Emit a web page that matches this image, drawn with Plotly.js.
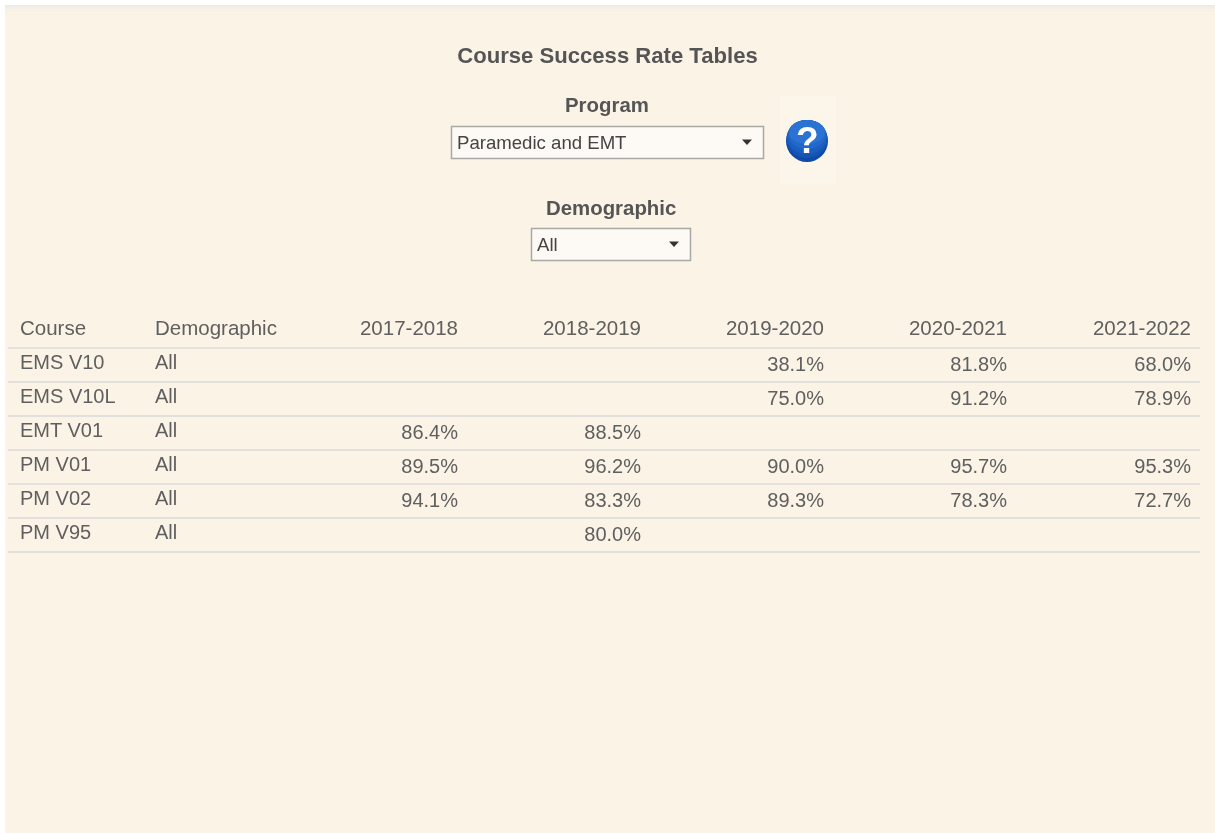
<!DOCTYPE html>
<html>
<head>
<meta charset="utf-8">
<script src="https://cdn.plot.ly/plotly-3.0.1.min.js"></script>
<style>html,body{margin:0;padding:0;background:#fff;overflow:hidden}#chart{width:1215px;height:833px;filter:blur(0.45px)}</style>
</head>
<body>
<div id="chart"></div>
<script>
const columns = ["Course","Demographic","2017-2018","2018-2019","2019-2020","2020-2021","2021-2022"];
const courses = ["EMS V10","EMS V10L","EMT V01","PM V01","PM V02","PM V95"];
const demographics = ["All","All","All","All","All","All"];
const y2017 = ["","","86.4%","89.5%","94.1%",""];
const y2018 = ["","","88.5%","96.2%","83.3%","80.0%"];
const y2019 = ["38.1%","75.0%","","90.0%","89.3%",""];
const y2020 = ["81.8%","91.2%","","95.7%","78.3%",""];
const y2021 = ["68.0%","78.9%","","95.3%","72.7%",""];
const chartTitle = "Course Success Rate Tables";
const programLabel = "Program", programValue = "Paramedic and EMT";
const demoLabel = "Demographic", demoValue = "All";

const W = 1215, H = 833;
const px = x => x / W, py = y => 1 - y / H;
const FONT = "Liberation Sans, Arial, sans-serif";
const TEXT = "#5f5f5f", BG = "#faf3e6", RULE = "#d9dad8";
const rect = (x0,y0,x1,y1,fill,line) => ({type:"rect",xref:"paper",yref:"paper",x0:px(x0),x1:px(x1),y0:py(y0),y1:py(y1),fillcolor:fill,line:line||{width:0},layer:"below"});
const hline = y => ({type:"line",xref:"paper",yref:"paper",x0:px(8),x1:px(1200),y0:py(y),y1:py(y),line:{color:RULE,width:1.5},layer:"above"});
const tri = (x,y) => ({type:"path",xref:"paper",yref:"paper",path:`M${px(x-5)},${py(y-2.5)} L${px(x+5)},${py(y-2.5)} L${px(x)},${py(y+3)} Z`,fillcolor:"#333",line:{width:0},layer:"above"});
const circle = (x0,y0,x1,y1,fill) => ({type:"circle",xref:"paper",yref:"paper",x0:px(x0),x1:px(x1),y0:py(y0),y1:py(y1),fillcolor:fill,line:{width:0},layer:"above"});

const shapes = [
  rect(0,0,5,833,"#ffffff"),
  rect(0,0,1215,5,"#ffffff"),
  rect(5,5,1215,7,"#eeebe4"),
  rect(5,7,1215,9,"#f3efe5"),
  rect(5,9,1215,12,"#f7f1e5"),
  rect(780,96,836,184,"#fbf5ea"),
  rect(451.5,126.5,763.5,158.5,"#fdfaf5",{color:"#a9a9a5",width:1.5}),
  rect(531.5,228.5,690.5,260.5,"#fdfaf5",{color:"#a9a9a5",width:1.5}),
  tri(747,142), tri(674,244),
  circle(786,120,828,162,"#0f4aa8"),
  circle(786.5,120,827.5,158,"#1554b4"),
  circle(787,120,827,154,"#1b5ec0"),
  circle(788,120,826,149,"#2268ca"),
  circle(789,120,825,144,"#2a72d4"),
  ...[348,382,416,450,484,518,552].map(hline)
];
const ann = (text,x,y,size,color,bold,anchor) => ({text:bold?`<b>${text}</b>`:text,xref:"paper",yref:"paper",x:px(x),y:py(y),xanchor:anchor||"center",yanchor:"middle",showarrow:false,font:{family:FONT,size,color}});

const layout = {
  width:W,height:H,margin:{l:0,r:0,t:0,b:0},paper_bgcolor:BG,plot_bgcolor:BG,
  title:{text:`<b>${chartTitle}</b>`,x:607.5/W,xanchor:"center",y:py(55.5),yanchor:"middle",font:{family:FONT,size:22.1,color:"#555555"}},
  shapes,
  annotations:[
    ann(programLabel,607,105,20.4,"#555555",true),
    ann(demoLabel,611,208,20.4,"#555555",true),
    ann(programValue,455,142,18.6,"#444444",false,"left"),
    ann(demoValue,535,244,18.6,"#444444",false,"left"),
    ann("?",807,140.5,37,"#ffffff",true)
  ]
};
const none = {color:"rgba(0,0,0,0)",width:0};
const clear = {color:"rgba(0,0,0,0)"};
const headFont = {family:FONT,size:20.5,color:TEXT};
const cellFont = {family:FONT,size:20,color:TEXT};
const leftTable = {
  type:"table",
  domain:{x:[px(12),px(283)],y:[py(570),py(312)]},
  columnwidth:[135,136],
  header:{values:columns.slice(0,2).map(c=>[c]),height:34,align:"left",fill:clear,line:none,font:headFont},
  cells:{values:[courses,demographics],height:34,align:"left",fill:clear,line:none,font:cellFont}
};
const yearTable = {
  type:"table",
  domain:{x:[px(283),px(1199)],y:[py(570),py(312)]},
  columnwidth:[183,183,183,183,184],
  header:{values:columns.slice(2).map(c=>[c]),height:36,align:"right",fill:clear,line:none,font:headFont},
  cells:{values:[y2017,y2018,y2019,y2020,y2021],height:34,align:"right",fill:clear,line:none,font:cellFont}
};
Plotly.newPlot("chart",[leftTable,yearTable],layout,{displayModeBar:false,staticPlot:true});
</script>
</body>
</html>
